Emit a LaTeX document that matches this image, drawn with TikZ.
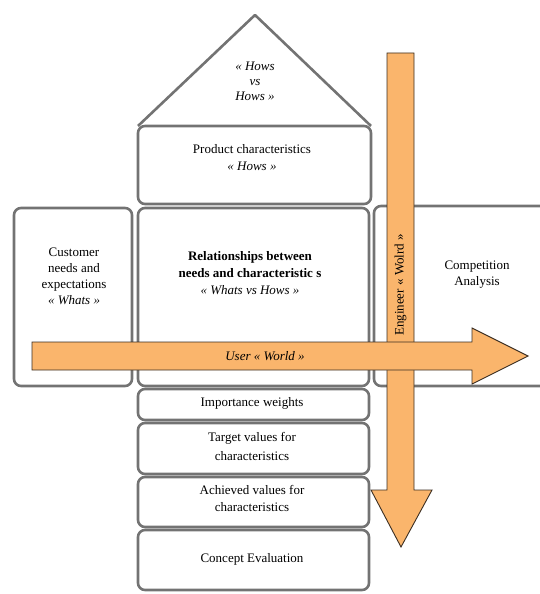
\documentclass[tikz,border=0pt]{standalone}
\usepackage{fontspec}
\setmainfont{Liberation Serif}
\begin{document}
\begin{tikzpicture}[x=1pt,y=-1pt,
  box/.style={draw=boxgray, line width=2.6pt, rounded corners=7pt, inner sep=0pt},
  arrowshape/.style={fill=arroworange, draw=arrowline, line width=0.9pt, line join=miter},
  lbl/.style={align=center, font=\fontsize{13}{17}\selectfont, inner sep=0pt, text=black}]
\definecolor{boxgray}{HTML}{737373}
\definecolor{arroworange}{HTML}{FAB56C}
\definecolor{arrowline}{HTML}{3B2E22}
\useasboundingbox (0,0) rectangle (540,594);
% roof
\draw[draw=boxgray, line width=2.6pt, line join=round] (138,126) -- (255,15) -- (371,126);
% boxes
\draw[box] (138,126) rectangle (371,204);
\node[inner sep=0pt] (prod) at (254.5,165) {};
\draw[box] (14,208) rectangle (132,386);
\node[inner sep=0pt] (cust) at (73,297) {};
\draw[box] (138,208) rectangle (369,386);
\node[inner sep=0pt] (rel) at (253.5,297) {};
\draw[box] (560,206) -- (374,206) -- (374,386) -- (560,386);
\node[inner sep=0pt] (comp) at (460,296) {};
\draw[box] (138,389) rectangle (369,420);
\node[inner sep=0pt] (imp) at (253.5,404.5) {};
\draw[box] (138,423) rectangle (369,474);
\node[inner sep=0pt] (targ) at (253.5,448.5) {};
\draw[box] (138,477) rectangle (369,527);
\node[inner sep=0pt] (ach) at (253.5,502) {};
\draw[box] (138,530) rectangle (369,590);
\node[inner sep=0pt] (conc) at (253.5,560) {};
% texts
\node[lbl] (roofT) at (255,81) {\textit{« Hows}\\[-2pt]\textit{vs}\\[-2pt]\textit{Hows »}};
\node[lbl] (prodT) at (252,158) {Product characteristics\\\textit{« Hows »}};
\node[lbl] (custT) at (74,276) {Customer\\[-1pt]needs and\\[-1pt]expectations\\[-1pt]\textit{« Whats »}};
\node[lbl] (relT) at (250,273) {\textbf{Relationships between}\\\textbf{needs and characteristic s}\\\textit{« Whats vs Hows »}};
\node[lbl] (compT) at (477,275) {Competition\\[-1pt]Analysis};
\node[lbl] (impT) at (252,403) {Importance weights};
\node[lbl] (targT) at (252,446) {Target values for\\[2pt]characteristics};
\node[lbl] (achT) at (252,498) {Achieved values for\\characteristics};
\node[lbl] (concT) at (252,559) {Concept Evaluation};
% vertical arrow
\draw[arrowshape] (387,53) -- (414,53) -- (414,490) -- (432,490) -- (401,547) -- (371,490) -- (387,490) -- cycle;
\node[lbl, rotate=90] (eng) at (400.5,285) {Engineer « Wolrd »};
% horizontal arrow
\draw[arrowshape] (32,342) -- (472,342) -- (472,328) -- (528,356) -- (472,384) -- (472,370) -- (32,370) -- cycle;
\node[lbl] (user) at (265,356) {\textit{User « World »}};
\end{tikzpicture}
\end{document}
